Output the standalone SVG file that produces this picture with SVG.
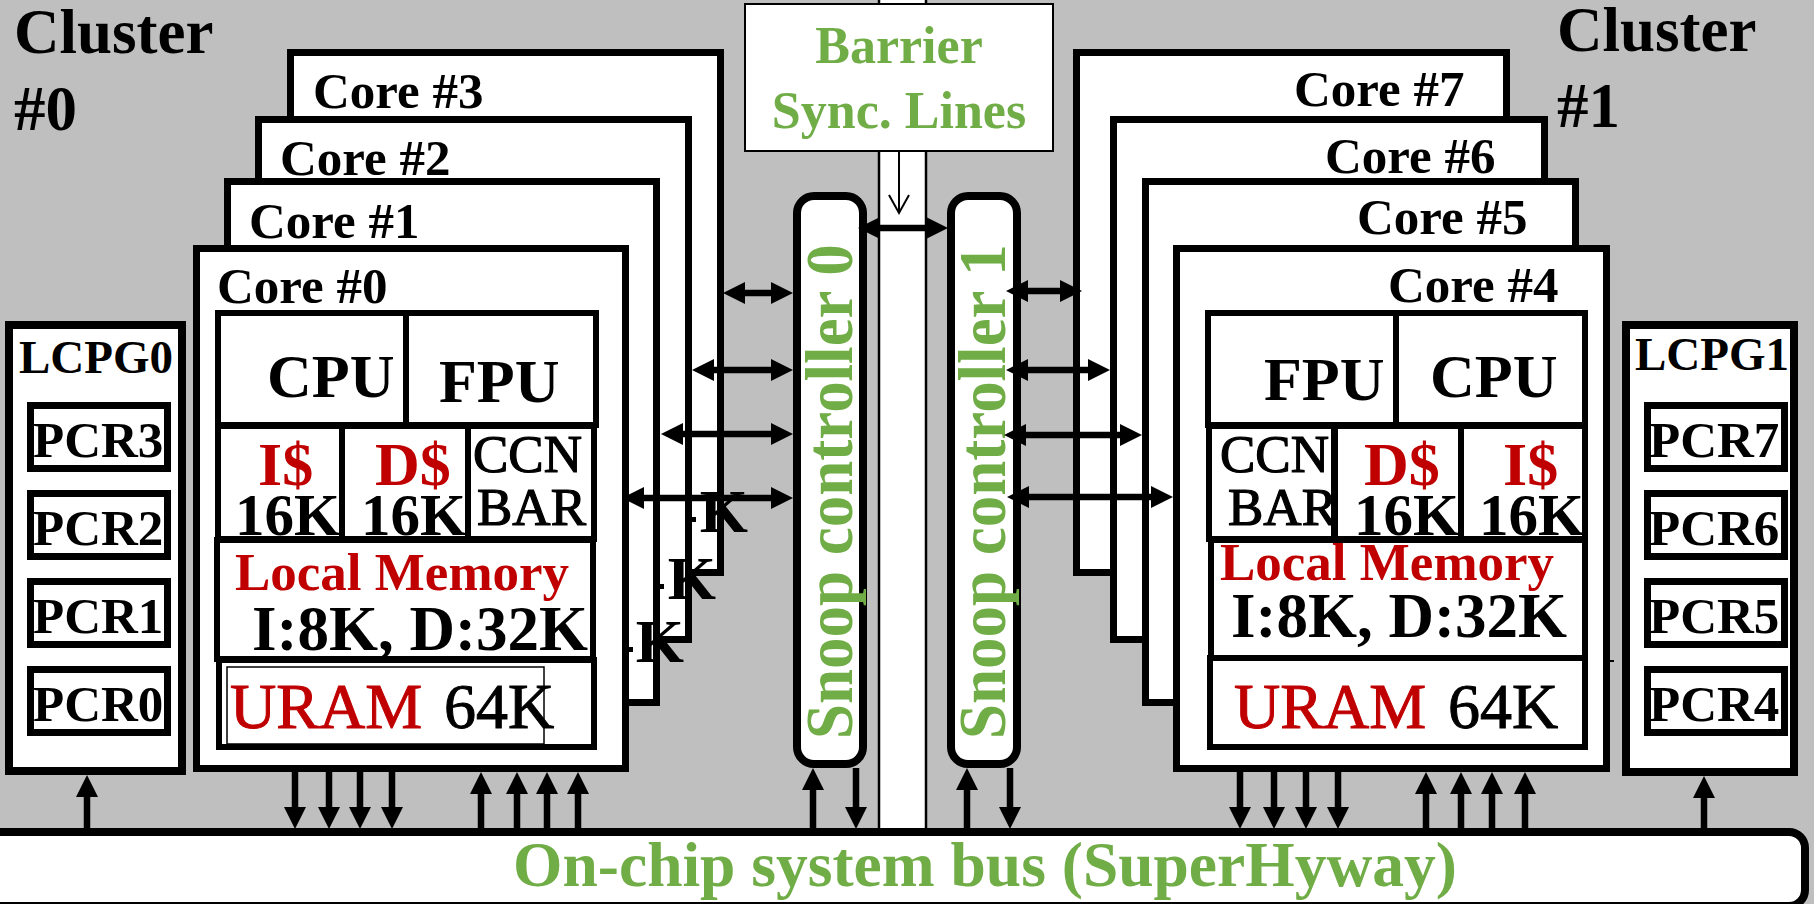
<svg xmlns="http://www.w3.org/2000/svg" width="1814" height="904" viewBox="0 0 1814 904">
<defs>
<style>
text{font-family:"Liberation Serif","Times New Roman",serif;font-weight:bold;fill:#000}
.red{fill:#C00000}
.grn{fill:#70AD47}
.core{fill:#fff;stroke:#000;stroke-width:7}
.cell{fill:#fff;stroke:#000;stroke-width:6}
.pcr{fill:#fff;stroke:#000;stroke-width:7}
.lcpg{fill:#fff;stroke:#000;stroke-width:8}
.snoop{fill:#fff;stroke:#000;stroke-width:8}
.lbl{font-size:51px}
.big{font-size:62px}
.k16{font-size:59px}
.ccn{font-size:53px;font-weight:normal;stroke:#000;stroke-width:1.2}
.lm{font-size:53px}
.mem{font-size:63px}
.uram{font-size:64px;font-weight:normal;stroke:#000;stroke-width:1}
.uram.red{stroke:#C00000}
.pcrt{font-size:51px}
.clu{font-size:63px}
.arr{stroke:#000;stroke-width:6.5;fill:none}
</style>
<marker id="ah" markerUnits="userSpaceOnUse" markerWidth="22" markerHeight="22" viewBox="0 0 22 22" refX="1" refY="11" orient="auto-start-reverse">
<path d="M0,0 L22,11 L0,22 z" fill="#000"/>
</marker>
</defs>
<rect x="0" y="0" width="1814" height="904" fill="#BFBFBF"/>

<g id="sync-channel">
<rect x="879" y="-5" width="47" height="840" fill="#fff"/>
<line x1="879" y1="-5" x2="879" y2="832" stroke="#000" stroke-width="2.5"/>
<line x1="926" y1="-5" x2="926" y2="832" stroke="#000" stroke-width="2.5"/>
</g>

<g id="cluster0-label">
<text class="clu" x="14" y="53">Cluster</text>
<text class="clu" x="14" y="130">#0</text>
</g>
<g id="cluster1-label">
<text class="clu" x="1557" y="51">Cluster</text>
<text class="clu" x="1557" y="127">#1</text>
</g>

<g id="core3">
<rect class="core" x="290.5" y="52.5" width="430" height="520"/>
<text class="lbl" x="313" y="108">Core #3</text>
<text class="big" x="748" y="532" text-anchor="end">K</text>
<rect x="692" y="517" width="4" height="5" fill="#000"/>
</g>
<g id="core2">
<rect class="core" x="258.5" y="119.5" width="430" height="520"/>
<text class="lbl" x="280" y="175">Core #2</text>
<text class="big" x="716" y="599" text-anchor="end">K</text>
<rect x="660" y="584" width="4" height="5" fill="#000"/>
</g>
<g id="core1">
<rect class="core" x="227.5" y="181.5" width="429" height="521"/>
<text class="lbl" x="249" y="238">Core #1</text>
<text class="big" x="684" y="662" text-anchor="end">K</text>
<rect x="629" y="647" width="4" height="5" fill="#000"/>
</g>
<g id="core0">
<rect class="core" x="196.5" y="248.5" width="429" height="520"/>
<text class="lbl" x="217" y="303">Core #0</text>
<rect class="cell" x="218" y="313" width="189" height="112"/>
<rect class="cell" x="406" y="313" width="190" height="112"/>
<rect class="cell" x="218" y="426" width="124" height="113"/>
<rect class="cell" x="342" y="426" width="126" height="113"/>
<rect class="cell" x="468" y="426" width="126" height="113"/>
<rect class="cell" x="217" y="540" width="376" height="119"/>
<rect class="cell" x="219" y="660" width="375" height="87"/>
<rect x="227" y="667" width="317" height="77" fill="none" stroke="#000" stroke-width="1.5"/>
<text class="big" x="267" y="397">CPU</text>
<text class="big" x="439" y="402">FPU</text>
<text class="big red" x="258" y="485">I$</text>
<text class="k16" x="235" y="535">16K</text>
<text class="big red" x="375" y="485">D$</text>
<text class="k16" x="361" y="535">16K</text>
<text class="ccn" x="473" y="472">CCN</text>
<text class="ccn" x="477" y="525">BAR</text>
<text class="lm red" x="235" y="590">Local Memory</text>
<text class="mem" x="252" y="650">I:8K, D:32K</text>
<text class="uram red" x="230" y="728">URAM</text>
<text class="uram" x="444" y="728">64K</text>
</g>

<g id="core7">
<rect class="core" x="1076.5" y="52.5" width="430" height="520"/>
<text class="lbl" x="1294" y="106">Core #7</text>
</g>
<g id="core6">
<rect class="core" x="1113.5" y="119.5" width="431" height="520"/>
<text class="lbl" x="1325" y="173">Core #6</text>
</g>
<g id="core5">
<rect class="core" x="1145.5" y="181.5" width="430" height="521"/>
<text class="lbl" x="1357" y="234">Core #5</text>
</g>
<g id="core4">
<rect class="core" x="1176.5" y="248.5" width="430" height="520"/>
<text class="lbl" x="1388" y="302">Core #4</text>
<rect class="cell" x="1208" y="313" width="188" height="112"/>
<rect class="cell" x="1396" y="313" width="189" height="112"/>
<rect class="cell" x="1209" y="426" width="125" height="113"/>
<rect class="cell" x="1335" y="426" width="126" height="113"/>
<rect class="cell" x="1461" y="426" width="124" height="113"/>
<rect class="cell" x="1211" y="540" width="374" height="119"/>
<rect class="cell" x="1210" y="658" width="375" height="89"/>
<text class="big" x="1264" y="400">FPU</text>
<text class="big" x="1430" y="397">CPU</text>
<text class="ccn" x="1220" y="472">CCN</text>
<text class="ccn" x="1228" y="525">BAR</text>
<text class="big red" x="1364" y="485">D$</text>
<text class="k16" x="1354" y="535">16K</text>
<text class="big red" x="1503" y="485">I$</text>
<text class="k16" x="1479" y="535">16K</text>
<text class="lm red" x="1220" y="580">Local Memory</text>
<text class="mem" x="1231" y="637">I:8K, D:32K</text>
<text class="uram red" x="1234" y="728">URAM</text>
<text class="uram" x="1448" y="728">64K</text>
<line x1="1610" y1="661" x2="1614" y2="661" stroke="#000" stroke-width="2"/>
</g>

<g id="lcpg0">
<rect class="lcpg" x="9" y="325" width="173" height="446"/>
<text x="19" y="373" style="font-size:47px">LCPG0</text>
<rect class="pcr" x="30.5" y="405.5" width="137" height="63"/>
<text class="pcrt" x="33" y="457">PCR3</text>
<rect class="pcr" x="30.5" y="493.5" width="137" height="63"/>
<text class="pcrt" x="33" y="545">PCR2</text>
<rect class="pcr" x="30.5" y="581.5" width="137" height="63"/>
<text class="pcrt" x="33" y="633">PCR1</text>
<rect class="pcr" x="30.5" y="669.5" width="137" height="63"/>
<text class="pcrt" x="33" y="721">PCR0</text>
</g>
<g id="lcpg1">
<rect class="lcpg" x="1626" y="325" width="168" height="447"/>
<text x="1635" y="370" style="font-size:47px">LCPG1</text>
<rect class="pcr" x="1647.5" y="405.5" width="137" height="63"/>
<text class="pcrt" x="1649" y="457">PCR7</text>
<rect class="pcr" x="1647.5" y="493.5" width="137" height="63"/>
<text class="pcrt" x="1649" y="545">PCR6</text>
<rect class="pcr" x="1647.5" y="581.5" width="137" height="63"/>
<text class="pcrt" x="1649" y="633">PCR5</text>
<rect class="pcr" x="1647.5" y="669.5" width="137" height="63"/>
<text class="pcrt" x="1649" y="721">PCR4</text>
</g>

<g id="snoop0">
<rect class="snoop" x="797" y="196" width="66" height="568" rx="17"/>
<text class="grn" transform="translate(852,739) rotate(-90) scale(1,1.07)" style="font-size:63px">Snoop controller 0</text>
</g>
<g id="snoop1">
<rect class="snoop" x="951" y="196" width="66" height="568" rx="17"/>
<text class="grn" transform="translate(1005,739) rotate(-90) scale(1,1.07)" style="font-size:63px">Snoop controller 1</text>
</g>

<g id="barrier">
<rect x="745" y="4" width="308" height="147" fill="#fff" stroke="#000" stroke-width="2"/>
<text class="grn" x="899" y="63" text-anchor="middle" style="font-size:52px">Barrier</text>
<text class="grn" x="899" y="128" text-anchor="middle" style="font-size:52px">Sync. Lines</text>
</g>

<g id="bus">
<rect x="-20" y="832" width="1825" height="74" rx="16" fill="#fff" stroke="#000" stroke-width="8"/>
<text class="grn" x="985" y="886" text-anchor="middle" style="font-size:63.5px">On-chip system bus (SuperHyway)</text>
</g>

<g id="connectors">
<line x1="899" y1="152" x2="899" y2="213" stroke="#000" stroke-width="2"/>
<polyline points="889,195 899,213 909,195" fill="none" stroke="#000" stroke-width="2"/>
<line class="arr" x1="879" y1="228" x2="927" y2="228" marker-start="url(#ah)" marker-end="url(#ah)"/>
<line class="arr" x1="744" y1="293" x2="772" y2="293" marker-start="url(#ah)" marker-end="url(#ah)"/>
<line class="arr" x1="713" y1="370" x2="772" y2="370" marker-start="url(#ah)" marker-end="url(#ah)"/>
<line class="arr" x1="682" y1="434" x2="772" y2="434" marker-start="url(#ah)" marker-end="url(#ah)"/>
<line class="arr" x1="643" y1="498" x2="772" y2="498" marker-start="url(#ah)" marker-end="url(#ah)"/>
<line class="arr" x1="1027" y1="291" x2="1061" y2="291" marker-start="url(#ah)" marker-end="url(#ah)"/>
<line class="arr" x1="1027" y1="370" x2="1089" y2="370" marker-start="url(#ah)" marker-end="url(#ah)"/>
<line class="arr" x1="1025" y1="435" x2="1121" y2="435" marker-start="url(#ah)" marker-end="url(#ah)"/>
<line class="arr" x1="1028" y1="497" x2="1152" y2="497" marker-start="url(#ah)" marker-end="url(#ah)"/>
<line class="arr" x1="87" y1="832" x2="87" y2="796" marker-end="url(#ah)"/>
<line class="arr" x1="295" y1="772" x2="295" y2="808" marker-end="url(#ah)"/>
<line class="arr" x1="329" y1="772" x2="329" y2="808" marker-end="url(#ah)"/>
<line class="arr" x1="360" y1="772" x2="360" y2="808" marker-end="url(#ah)"/>
<line class="arr" x1="392" y1="772" x2="392" y2="808" marker-end="url(#ah)"/>
<line class="arr" x1="481" y1="832" x2="481" y2="793" marker-end="url(#ah)"/>
<line class="arr" x1="517" y1="832" x2="517" y2="793" marker-end="url(#ah)"/>
<line class="arr" x1="547" y1="832" x2="547" y2="793" marker-end="url(#ah)"/>
<line class="arr" x1="578" y1="832" x2="578" y2="793" marker-end="url(#ah)"/>
<line class="arr" x1="813" y1="832" x2="813" y2="789" marker-end="url(#ah)"/>
<line class="arr" x1="856" y1="768" x2="856" y2="808" marker-end="url(#ah)"/>
<line class="arr" x1="967" y1="832" x2="967" y2="789" marker-end="url(#ah)"/>
<line class="arr" x1="1010" y1="768" x2="1010" y2="808" marker-end="url(#ah)"/>
<line class="arr" x1="1240" y1="772" x2="1240" y2="808" marker-end="url(#ah)"/>
<line class="arr" x1="1274" y1="772" x2="1274" y2="808" marker-end="url(#ah)"/>
<line class="arr" x1="1306" y1="772" x2="1306" y2="808" marker-end="url(#ah)"/>
<line class="arr" x1="1338" y1="772" x2="1338" y2="808" marker-end="url(#ah)"/>
<line class="arr" x1="1426" y1="832" x2="1426" y2="793" marker-end="url(#ah)"/>
<line class="arr" x1="1461" y1="832" x2="1461" y2="793" marker-end="url(#ah)"/>
<line class="arr" x1="1492" y1="832" x2="1492" y2="793" marker-end="url(#ah)"/>
<line class="arr" x1="1525" y1="832" x2="1525" y2="793" marker-end="url(#ah)"/>
<line class="arr" x1="1704" y1="832" x2="1704" y2="797" marker-end="url(#ah)"/>
</g>
</svg>
